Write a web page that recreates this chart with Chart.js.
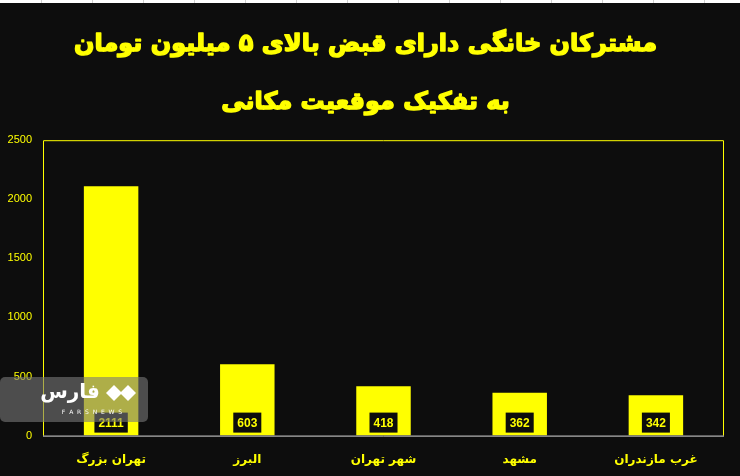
<!DOCTYPE html>
<html>
<head>
<meta charset="utf-8">
<script src="https://cdn.jsdelivr.net/npm/chart.js@4/dist/chart.umd.min.js"></script>
<style>
  html, body { margin: 0; padding: 0; background: #0d0d0d; }
  #wrap { position: relative; width: 740px; height: 476px; }
</style>
</head>
<body>
<div id="wrap"><canvas id="c" width="740" height="476"></canvas></div>
<script>
// داده‌ها
const regions = ['تهران بزرگ', 'البرز', 'شهر تهران', 'مشهد', 'غرب مازندران'];
const subscribers = [2111, 603, 418, 362, 342];
const yTicks = [0, 500, 1000, 1500, 2000, 2500];
const titleLines = ['مشترکان خانگی دارای قبض بالای ۵ میلیون تومان', 'به تفکیک موقعیت مکانی'];

const YELLOW = '#ffff00';
const BG = '#0d0d0d';
const TITLE_SIZE = 24;
const TITLE_LH = 2.4;

// پس‌زمینه، قاب و برچسب مقادیر
const decor = {
  id: 'decor',
  beforeDraw(chart) {
    const { ctx, width, height } = chart;
    ctx.save();
    ctx.fillStyle = BG;
    ctx.fillRect(0, 0, width, height);
    // نوار سفید بالای صفحه (اکسل)
    ctx.fillStyle = '#ffffff';
    ctx.fillRect(0, 0, width, 3);
    ctx.fillStyle = '#d0d0d0';
    for (let x = 41; x < width; x += 51) ctx.fillRect(x, 0, 1, 3);
    ctx.restore();
  },
  afterDatasetsDraw(chart) {
    const { ctx, chartArea: a } = chart;
    ctx.save();
    ctx.strokeStyle = YELLOW;
    ctx.lineWidth = 1;
    ctx.beginPath();
    ctx.moveTo(a.left + 0.5, a.bottom);
    ctx.lineTo(a.left + 0.5, a.top + 0.5);
    ctx.lineTo(a.right - 0.5, a.top + 0.5);
    ctx.lineTo(a.right - 0.5, a.bottom);
    ctx.stroke();
    ctx.strokeStyle = '#d9d9d9';
    ctx.beginPath();
    ctx.moveTo(a.left, a.bottom + 0.5);
    ctx.lineTo(a.right, a.bottom + 0.5);
    ctx.stroke();

    // برچسب مقدار
    const meta = chart.getDatasetMeta(0);
    ctx.font = 'bold 12px "Liberation Sans", sans-serif';
    ctx.textAlign = 'center';
    ctx.textBaseline = 'middle';
    meta.data.forEach((bar, i) => {
      const txt = String(subscribers[i]);
      const w = ctx.measureText(txt).width + 8;
      const cy = a.bottom - 13;
      ctx.fillStyle = BG;
      ctx.fillRect(bar.x - w / 2, cy - 10, w, 20);
      ctx.fillStyle = YELLOW;
      ctx.fillText(txt, bar.x, cy + 1);
    });

    // واترمارک فارس
    ctx.fillStyle = 'rgba(120,120,120,0.6)';
    ctx.beginPath();
    ctx.roundRect(0, 377, 148, 45, 5);
    ctx.fill();
    ctx.fillStyle = '#ffffff';
    ctx.font = 'bold 20px "DejaVu Sans", sans-serif';
    ctx.fillText('فارس', 70, 393);
    ctx.font = '6px "DejaVu Sans", sans-serif';
    ctx.fillText('F  A  R  S  N  E  W  S', 92, 412);
    ctx.beginPath();
    ctx.moveTo(106, 393); ctx.lineTo(114, 385); ctx.lineTo(122, 393); ctx.lineTo(114, 401); ctx.closePath();
    ctx.moveTo(120, 393); ctx.lineTo(128, 385); ctx.lineTo(136, 393); ctx.lineTo(128, 401); ctx.closePath();
    ctx.fill();
    ctx.restore();
  },
  afterDraw(chart) {
    // ضخیم‌تر کردن عنوان
    const { ctx } = chart;
    const tb = chart.titleBlock;
    const lh = TITLE_SIZE * TITLE_LH;
    ctx.save();
    ctx.font = `bold ${TITLE_SIZE}px "DejaVu Sans", sans-serif`;
    ctx.textAlign = 'center';
    ctx.textBaseline = 'middle';
    ctx.strokeStyle = YELLOW;
    ctx.lineWidth = 1.4;
    ctx.lineJoin = 'round';
    const cx = (tb.left + tb.right) / 2;
    titleLines.forEach((t, i) => {
      ctx.strokeText(t, cx, tb.top + lh * (i + 0.5));
    });
    ctx.restore();
  }
};

new Chart(document.getElementById('c'), {
  type: 'bar',
  data: {
    labels: regions,
    datasets: [{
      data: subscribers,
      backgroundColor: YELLOW,
      borderWidth: 0,
      categoryPercentage: 1,
      barPercentage: 0.4
    }]
  },
  options: {
    responsive: false,
    animation: false,
    layout: { padding: { left: 7, right: 16, top: 16, bottom: 0 } },
    plugins: {
      legend: { display: false },
      tooltip: { enabled: false },
      title: {
        display: true,
        text: titleLines,
        color: YELLOW,
        font: { family: '"DejaVu Sans", sans-serif', size: TITLE_SIZE, weight: 'bold', lineHeight: TITLE_LH },
        padding: { top: 0, bottom: 9 }
      }
    },
    scales: {
      x: {
        grid: { display: false },
        border: { display: false },
        afterFit: axis => { axis.paddingLeft = 0; axis.paddingRight = 0; },
        ticks: {
          color: YELLOW,
          padding: 9,
          font: { family: '"DejaVu Sans", sans-serif', size: 12, weight: 'bold' }
        }
      },
      y: {
        min: 0,
        max: 2500,
        afterBuildTicks: axis => { axis.ticks = yTicks.map(v => ({ value: v })); },
        afterFit: axis => { axis.width = 36; },
        grid: { display: false },
        border: { display: false },
        ticks: {
          color: YELLOW,
          padding: 3,
          callback: v => String(v),
          font: { family: '"Liberation Sans", sans-serif', size: 11 }
        }
      }
    }
  },
  plugins: [decor]
});
</script>
</body>
</html>
